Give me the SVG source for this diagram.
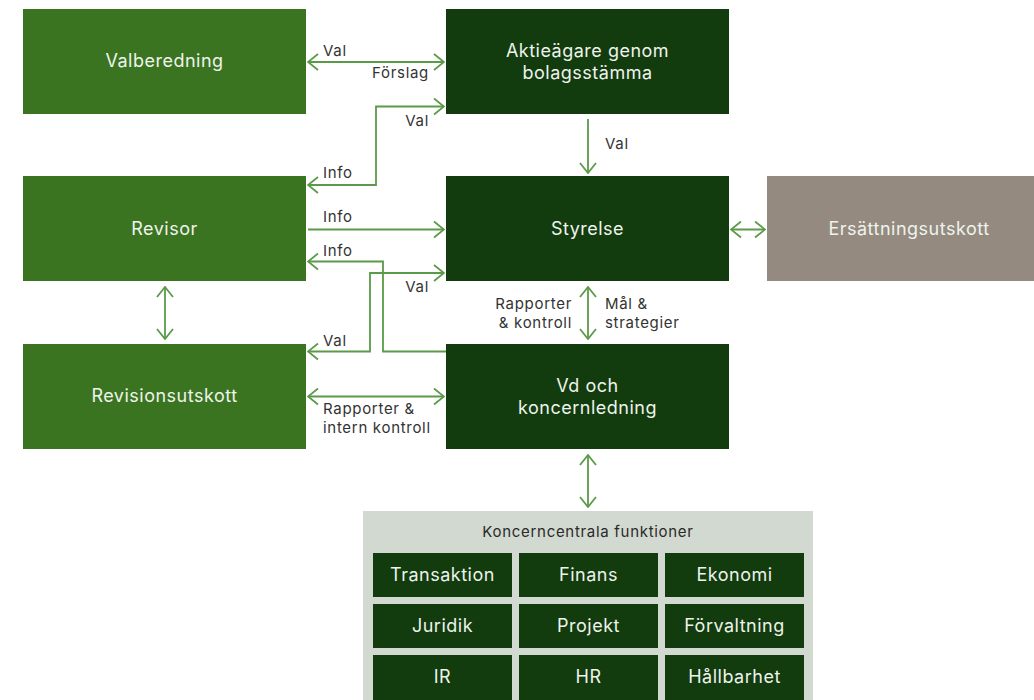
<svg xmlns="http://www.w3.org/2000/svg" width="1034" height="700" viewBox="0 0 1034 700">
<defs>
<style>
.bg{fill:#ffffff}
.light{fill:#3b7420}
.dark{fill:#123b0e}
.grey{fill:#958a80}
.panel{fill:#d2d9d0}
.bt{font-family:Inter,"Liberation Sans",sans-serif;font-size:18px;letter-spacing:0.5px;fill:#eef3ec;text-anchor:middle}
.lb{font-family:Inter,"Liberation Sans",sans-serif;font-size:15px;letter-spacing:0.7px;fill:#333333}
.ttl{font-family:Inter,"Liberation Sans",sans-serif;font-size:15px;letter-spacing:0.7px;fill:#2a2a2a;text-anchor:middle}
.c{fill:none;stroke:#5b9a49;stroke-width:1.8}
</style>
<marker id="ah" viewBox="0 0 12 18" refX="11" refY="9" markerWidth="12" markerHeight="18" markerUnits="userSpaceOnUse" orient="auto-start-reverse">
<path d="M1,1 L11,9 L1,17" fill="none" stroke="#5b9a49" stroke-width="1.8"/>
</marker>
</defs>
<rect class="bg" x="0" y="0" width="1034" height="700"/>

<g id="valberedning"><rect class="light" x="23" y="9" width="283" height="105"/><text class="bt" x="164.5" y="67">Valberedning</text></g>
<g id="aktieagare"><rect class="dark" x="446" y="9" width="283" height="105"/><text class="bt" x="587.5" y="57">Aktieägare genom</text><text class="bt" x="587.5" y="79">bolagsstämma</text></g>
<g id="revisor"><rect class="light" x="23" y="176" width="283" height="105"/><text class="bt" x="164.5" y="235">Revisor</text></g>
<g id="styrelse"><rect class="dark" x="446" y="176" width="283" height="105"/><text class="bt" x="587.5" y="235">Styrelse</text></g>
<g id="ersattningsutskott"><rect class="grey" x="767" y="176" width="267" height="105"/><text class="bt" x="909" y="235">Ersättningsutskott</text></g>
<g id="revisionsutskott"><rect class="light" x="23" y="344" width="283" height="105"/><text class="bt" x="164.5" y="402">Revisionsutskott</text></g>
<g id="vd"><rect class="dark" x="446" y="344" width="283" height="105"/><text class="bt" x="587.5" y="392">Vd och</text><text class="bt" x="587.5" y="414">koncernledning</text></g>

<g id="koncerncentrala">
<rect class="panel" x="363" y="511" width="450" height="189"/>
<text class="ttl" x="588" y="537">Koncerncentrala funktioner</text>
<g id="transaktion"><rect class="dark" x="373" y="553" width="139" height="44"/><text class="bt" x="442.5" y="581">Transaktion</text></g>
<g id="finans"><rect class="dark" x="519" y="553" width="139" height="44"/><text class="bt" x="588.5" y="581">Finans</text></g>
<g id="ekonomi"><rect class="dark" x="665" y="553" width="139" height="44"/><text class="bt" x="734.5" y="581">Ekonomi</text></g>
<g id="juridik"><rect class="dark" x="373" y="604" width="139" height="44"/><text class="bt" x="442.5" y="632">Juridik</text></g>
<g id="projekt"><rect class="dark" x="519" y="604" width="139" height="44"/><text class="bt" x="588.5" y="632">Projekt</text></g>
<g id="forvaltning"><rect class="dark" x="665" y="604" width="139" height="44"/><text class="bt" x="734.5" y="632">Förvaltning</text></g>
<g id="ir"><rect class="dark" x="373" y="655" width="139" height="45"/><text class="bt" x="442.5" y="683">IR</text></g>
<g id="hr"><rect class="dark" x="519" y="655" width="139" height="45"/><text class="bt" x="588.5" y="683">HR</text></g>
<g id="hallbarhet"><rect class="dark" x="665" y="655" width="139" height="45"/><text class="bt" x="734.5" y="683">Hållbarhet</text></g>
</g>

<g id="connectors">
<path class="c" d="M308,62 H444" marker-start="url(#ah)" marker-end="url(#ah)"/>
<path class="c" d="M308,185 H376 V106.5 H444" marker-start="url(#ah)" marker-end="url(#ah)"/>
<path class="c" d="M308,229.5 H444" marker-end="url(#ah)"/>
<path class="c" d="M446,351.5 H383 V261.5 H308" marker-end="url(#ah)"/>
<path class="c" d="M308,351.5 H370 V273 H444" marker-start="url(#ah)" marker-end="url(#ah)"/>
<path class="c" d="M165,287 V339" marker-start="url(#ah)" marker-end="url(#ah)"/>
<path class="c" d="M308,396.5 H444" marker-start="url(#ah)" marker-end="url(#ah)"/>
<path class="c" d="M588,119 V173" marker-end="url(#ah)"/>
<path class="c" d="M588,287 V339" marker-start="url(#ah)" marker-end="url(#ah)"/>
<path class="c" d="M731,229.5 H765" marker-start="url(#ah)" marker-end="url(#ah)"/>
<path class="c" d="M588,455 V507" marker-start="url(#ah)" marker-end="url(#ah)"/>
</g>

<g id="labels">
<text class="lb" x="323" y="56">Val</text>
<text class="lb" x="429" y="78" text-anchor="end">Förslag</text>
<text class="lb" x="429" y="126" text-anchor="end">Val</text>
<text class="lb" x="323" y="178">Info</text>
<text class="lb" x="323" y="221.5">Info</text>
<text class="lb" x="323" y="256">Info</text>
<text class="lb" x="429" y="292" text-anchor="end">Val</text>
<text class="lb" x="323" y="345.5">Val</text>
<text class="lb" x="323" y="414">Rapporter &amp;</text>
<text class="lb" x="323" y="432.5">intern kontroll</text>
<text class="lb" x="605" y="148.5">Val</text>
<text class="lb" x="572" y="309" text-anchor="end">Rapporter</text>
<text class="lb" x="572" y="327.5" text-anchor="end">&amp; kontroll</text>
<text class="lb" x="605" y="309">Mål &amp;</text>
<text class="lb" x="605" y="327.5">strategier</text>
</g>
</svg>
